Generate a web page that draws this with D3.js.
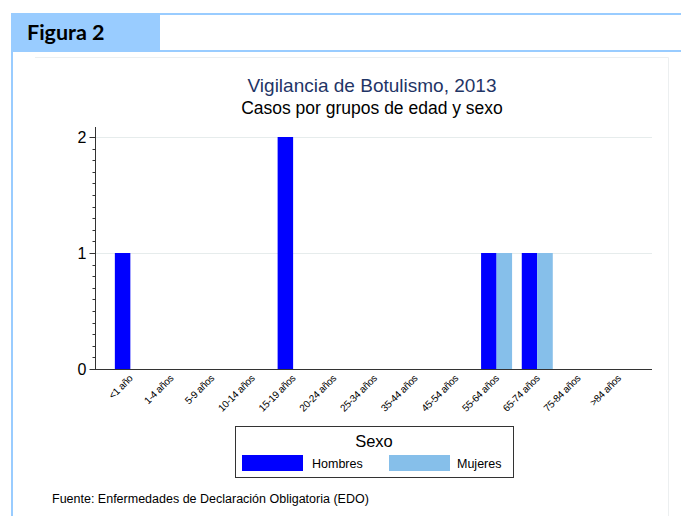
<!DOCTYPE html>
<html>
<head>
<meta charset="utf-8">
<script src="https://cdn.jsdelivr.net/npm/d3@7"></script>
<style>
  body { margin: 0; background: #fff; }
  svg text { font-family: "Liberation Sans", Arial, sans-serif; }
</style>
</head>
<body>
<div id="chart-area"></div>
<script>
/* data */
var grupos = ["<1 año", "1-4 años", "5-9 años", "10-14 años", "15-19 años", "20-24 años",
              "25-34 años", "35-44 años", "45-54 años", "55-64 años", "65-74 años",
              "75-84 años", ">84 años"];
var sexos = ["Hombres", "Mujeres"];
var hombres = [1, 0, 0, 0, 2, 0, 0, 0, 0, 1, 1, 0, 0];
var mujeres = [0, 0, 0, 0, 0, 0, 0, 0, 0, 1, 1, 0, 0];
var yTicks = [0, 1, 2];

var width = 681;
var height = 516;

var svg = d3.select("#chart-area")
    .append("svg")
    .attr("width", width)
    .attr("height", height);

/* header band "Figura 2" */
svg.append("rect")
    .attr("x", 11).attr("y", 13)
    .attr("width", 149).attr("height", 39)
    .attr("fill", "#99ccff");
svg.append("rect")
    .attr("x", 11).attr("y", 13)
    .attr("width", width - 11).attr("height", 2)
    .attr("fill", "#99ccff");
svg.append("rect")
    .attr("x", 11).attr("y", 50)
    .attr("width", width - 11).attr("height", 2)
    .attr("fill", "#99ccff");
svg.append("rect")
    .attr("x", 11).attr("y", 50)
    .attr("width", 2).attr("height", height - 50)
    .attr("fill", "#99ccff");
svg.append("text")
    .attr("x", 27).attr("y", 40)
    .style("font-family", "Lato, 'Open Sans', sans-serif")
    .style("font-weight", "bold")
    .style("font-size", "21.5px")
    .attr("fill", "#000")
    .text("Figura 2");

/* light panel border around the graph */
svg.append("path")
    .attr("d", "M35,57.5H668.5V516")
    .attr("fill", "none")
    .attr("stroke", "#eceff0")
    .attr("stroke-width", 1);

/* titles */
svg.append("text")
    .attr("x", 372).attr("y", 92)
    .attr("text-anchor", "middle")
    .style("font-size", "19px")
    .attr("fill", "#1f3566")
    .text("Vigilancia de Botulismo, 2013");
svg.append("text")
    .attr("x", 372).attr("y", 114)
    .attr("text-anchor", "middle")
    .style("font-size", "17.5px")
    .attr("fill", "#000")
    .text("Casos por grupos de edad y sexo");

/* scales */
var plotLeft = 95, plotRight = 652;
var y = d3.scaleLinear().domain([0, 2]).range([369, 137]);
var x0 = d3.scaleBand().domain(grupos).range([110, 639]).padding(0);
var groupW = 31;
var x1 = d3.scaleBand().domain(sexos).range([0, groupW]).padding(0);
var color = d3.scaleOrdinal().domain(sexos).range(["#0000ff", "#86bfea"]);

/* gridlines */
svg.append("g")
    .selectAll("line")
    .data(yTicks.filter(d => d > 0))
    .enter().append("line")
    .attr("x1", plotLeft).attr("x2", plotRight)
    .attr("y1", d => y(d) + 0.5).attr("y2", d => y(d) + 0.5)
    .attr("stroke", "#e6ecec")
    .attr("stroke-width", 1);

/* bars */
var rows = grupos.map((g, i) => ({ grupo: g, Hombres: hombres[i], Mujeres: mujeres[i] }));
svg.append("g")
    .selectAll("g")
    .data(rows)
    .enter().append("g")
    .attr("transform", d => "translate(" + (x0(d.grupo) + (x0.bandwidth() - groupW) / 2) + ",0)")
    .selectAll("rect")
    .data(d => sexos.map(s => ({ sexo: s, value: d[s] })).filter(d => d.value > 0))
    .enter().append("rect")
    .attr("x", d => x1(d.sexo))
    .attr("width", x1.bandwidth())
    .attr("y", d => y(d.value))
    .attr("height", d => y(0) - y(d.value))
    .attr("fill", d => color(d.sexo));

/* y axis with minor ticks */
var yAxis = svg.append("g").attr("transform", "translate(" + (plotLeft + 0.5) + ",0)");
yAxis.append("line")
    .attr("y1", y(2) - 10).attr("y2", y(0))
    .attr("stroke", "#333");
yAxis.selectAll(".minor")
    .data(d3.range(0, 2.0001, 0.1))
    .enter().append("line")
    .attr("class", "minor")
    .attr("x1", -3).attr("x2", 0)
    .attr("y1", d => Math.round(y(d)) + 0.5).attr("y2", d => Math.round(y(d)) + 0.5)
    .attr("stroke", "#333");
yAxis.selectAll(".major")
    .data(yTicks)
    .enter().append("line")
    .attr("class", "major")
    .attr("x1", -6).attr("x2", 0)
    .attr("y1", d => y(d) + 0.5).attr("y2", d => y(d) + 0.5)
    .attr("stroke", "#333");
yAxis.selectAll("text")
    .data(yTicks)
    .enter().append("text")
    .attr("x", -9)
    .attr("y", d => y(d) + 5.5)
    .attr("text-anchor", "end")
    .style("font-size", "16px")
    .attr("fill", "#000")
    .text(d => d);

/* x axis */
svg.append("line")
    .attr("x1", plotLeft).attr("x2", plotRight)
    .attr("y1", y(0) + 0.5).attr("y2", y(0) + 0.5)
    .attr("stroke", "#333");
svg.append("g")
    .selectAll("text")
    .data(grupos)
    .enter().append("text")
    .attr("transform", d => "translate(" + (x0(d) + x0.bandwidth() / 2 + 3) + "," + (y(0) + 10) + ") rotate(-45)")
    .attr("text-anchor", "end")
    .style("font-size", "10px")
    .style("letter-spacing", "-0.3px")
    .attr("fill", "#000")
    .text(d => d);

/* legend */
var legend = svg.append("g").attr("transform", "translate(235,426)");
legend.append("rect")
    .attr("x", 0.5).attr("y", 0.5)
    .attr("width", 278).attr("height", 51)
    .attr("fill", "#fff")
    .attr("stroke", "#333");
legend.append("text")
    .attr("x", 139).attr("y", 21)
    .attr("text-anchor", "middle")
    .style("font-size", "16.5px")
    .attr("fill", "#000")
    .text("Sexo");
var legX = d3.scaleOrdinal().domain(sexos).range([7, 154]);
var item = legend.selectAll(".item")
    .data(sexos)
    .enter().append("g")
    .attr("class", "item")
    .attr("transform", d => "translate(" + legX(d) + ",29)");
item.append("rect")
    .attr("width", 61).attr("height", 16)
    .attr("fill", d => color(d));
item.append("text")
    .attr("x", d => d === "Hombres" ? 70 : 68)
    .attr("y", 13)
    .style("font-size", "12.5px")
    .attr("fill", "#000")
    .text(d => d);

/* footer */
svg.append("text")
    .attr("x", 52).attr("y", 503)
    .style("font-size", "12.5px")
    .attr("fill", "#000")
    .text("Fuente: Enfermedades de Declaración Obligatoria (EDO)");
</script>
</body>
</html>
